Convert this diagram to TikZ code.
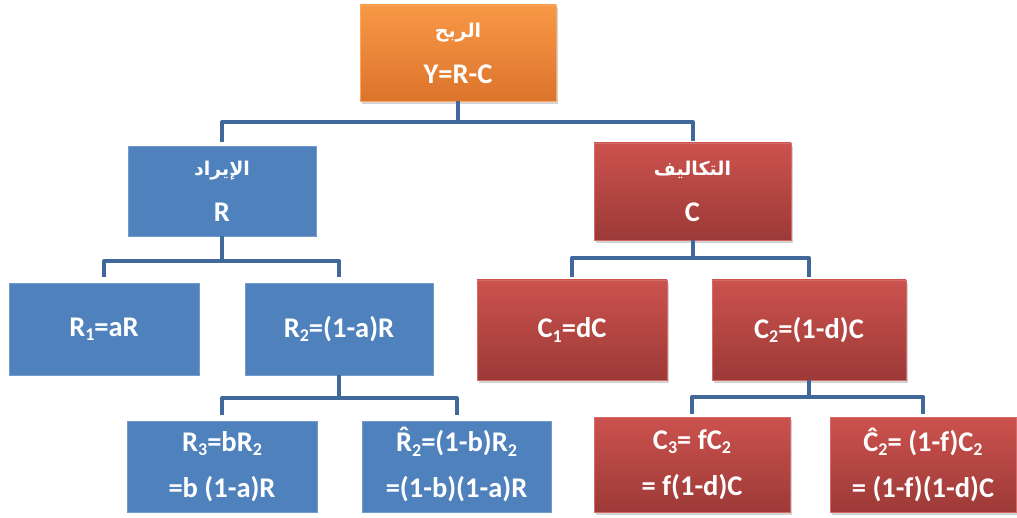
\documentclass[tikz,border=0pt]{standalone}
\usepackage{fontspec}
\setmainfont{Carlito}
\newfontfamily\arabicfont[Script=Arabic]{DejaVu Sans}
\TeXXeTstate=1
\usetikzlibrary{shadows}
\definecolor{bluebox}{RGB}{79,129,189}
\definecolor{redtop}{RGB}{204,82,78}
\definecolor{redbot}{RGB}{156,58,55}
\definecolor{orgtop}{RGB}{248,152,70}
\definecolor{orgbot}{RGB}{220,116,44}
\definecolor{connc}{RGB}{65,104,155}
\newcommand\lowidx[1]{\raisebox{-0.32ex}{\fontsize{18}{18}\selectfont #1}}
\newcommand\hatR{{\ooalign{R\cr\hidewidth\raisebox{0.19em}{ˆ}\hidewidth\cr}}}
\newcommand\ar[1]{{\arabicfont\bfseries\fontsize{19}{24}\selectfont\beginR #1\endR}}
\tikzset{
  box/.style={rectangle, inner sep=0pt, align=center, text=white,
    font=\bfseries\fontsize{28.5}{46}\selectfont},
  bluebx/.style={box, fill=bluebox, draw=bluebox!80!white, line width=0.6pt},
  redbx/.style={box, top color=redtop, bottom color=redbot, draw=redtop!85!white, line width=0.6pt,
    drop shadow={shadow xshift=2pt, shadow yshift=-3pt, opacity=0.35}},
  orgbx/.style={box, top color=orgtop, bottom color=orgbot, draw=orgtop!85!white, line width=0.6pt,
    drop shadow={shadow xshift=2pt, shadow yshift=-3pt, opacity=0.35}},
  conn/.style={draw=connc, line width=4pt, line cap=butt, line join=round}
}
\begin{document}
\begin{tikzpicture}[x=1pt,y=-1pt]
\useasboundingbox (0,0) rectangle (1017,518);
% nodes
\node[orgbx, minimum width=196pt, minimum height=96pt] (top) at (458,53) {\ar{الربح}\\Y=R-C};
\node[bluebx, minimum width=188pt, minimum height=90pt] (R) at (222,191) {\ar{الإيراد}\\R};
\node[redbx, minimum width=197pt, minimum height=97pt] (C) at (692.5,191.5) {\ar{التكاليف}\\C};
\node[bluebx, minimum width=190pt, minimum height=92pt] (R1) at (104,329) {R\lowidx{1}=aR};
\node[bluebx, minimum width=188pt, minimum height=92pt] (R2) at (339,329) {R\lowidx{2}=(1-a)R};
\node[redbx, minimum width=190pt, minimum height=100pt] (C1) at (572,330) {C\lowidx{1}=dC};
\node[redbx, minimum width=194pt, minimum height=100pt] (C2) at (809,330) {C\lowidx{2}=(1-d)C};
\node[bluebx, minimum width=190pt, minimum height=91pt] (R3) at (222,466.5) {R\lowidx{3}=bR\lowidx{2}\\=b (1-a)R};
\node[bluebx, minimum width=189pt, minimum height=91pt] (R2h) at (456.5,466.5) {\hatR\lowidx{2}=(1-b)R\lowidx{2}\\=(1-b)(1-a)R};
\node[redbx, minimum width=196pt, minimum height=95pt] (C3) at (692,464.5) {C\lowidx{3}= fC\lowidx{2}\\= f(1-d)C};
\node[redbx, minimum width=186pt, minimum height=95pt] (C2h) at (923,464.5) {Ĉ\lowidx{2}= (1-f)C\lowidx{2}\\= (1-f)(1-d)C};
% connectors
\draw[conn] (top.south) -- (top.south |- 0,122) -| ([yshift=4pt]R.north);
\draw[conn] (top.south) -- (top.south |- 0,122) -| ([yshift=2pt]C.north);
\draw[conn] (R.south) -- (R.south |- 0,261) -| ([yshift=6pt]R1.north);
\draw[conn] (R.south) -- (R.south |- 0,261) -| ([yshift=6pt]R2.north);
\draw[conn] (C.south) -- (C.south |- 0,258) -| ([yshift=3pt]C1.north);
\draw[conn] (C.south) -- (C.south |- 0,258) -| ([yshift=3pt]C2.north);
\draw[conn] (R2.south) -- (R2.south |- 0,398) -| ([yshift=6pt]R3.north);
\draw[conn] (R2.south) -- (R2.south |- 0,398) -| ([yshift=6pt]R2h.north);
\draw[conn] (C2.south) -- (C2.south |- 0,397) -| ([yshift=3pt]C3.north);
\draw[conn] (C2.south) -- (C2.south |- 0,397) -| ([yshift=3pt]C2h.north);
\end{tikzpicture}
\end{document}
